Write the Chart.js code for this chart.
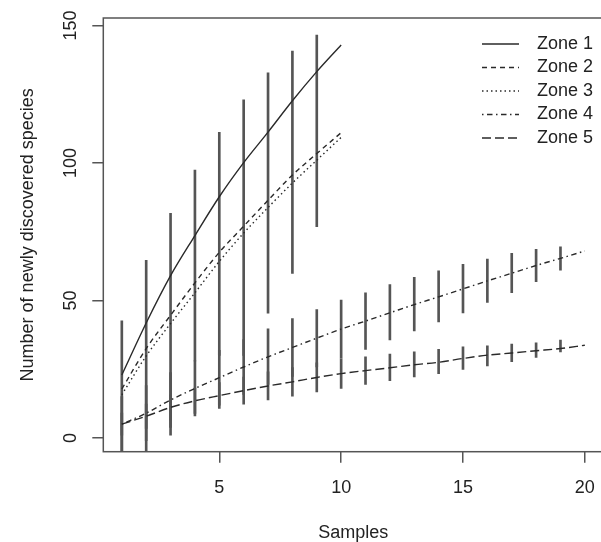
<!DOCTYPE html>
<html>
<head>
<meta charset="utf-8">
<script src="https://cdn.jsdelivr.net/npm/chart.js@4.4.1/dist/chart.umd.min.js"></script>
<style>
html, body { margin: 0; padding: 0; background: #fff; overflow: hidden; }
#wrap { width: 610px; height: 542px; }
</style>
</head>
<body>
<div id="wrap"><canvas id="myChart" width="610" height="542"></canvas></div>
<script>
// samples (x) and curves
const samplesShort = [1, 2, 3, 4, 5, 6, 7, 8, 9, 10]
const samplesLong = [1, 2, 3, 4, 5, 6, 7, 8, 9, 10, 11, 12, 13, 14, 15, 16, 17, 18, 19, 20]

const zone1 = [22.9, 41.8, 59.0, 73.6, 87.7, 100.1, 111.2, 122.6, 133.2, 142.9]
const zone2 = [17.8, 32.5, 44.6, 56.4, 67.5, 77.0, 86.4, 95.6, 103.4, 111.0]
const zone3 = [15.7, 29.8, 41.6, 52.8, 64.2, 74.5, 83.8, 92.7, 101.0, 109.3]
const zone4 = [5.0, 9.0, 13.8, 18.0, 21.9, 25.8, 29.5, 32.9, 36.3, 39.6, 42.5, 45.5, 48.5, 51.3, 54.2, 57.1, 59.9, 62.7, 65.3, 68.0]
const zone5 = [5.0, 7.9, 11.1, 13.5, 15.4, 17.2, 18.9, 20.4, 22.0, 23.4, 24.5, 25.5, 26.6, 27.5, 28.9, 30.1, 30.9, 31.7, 32.5, 33.7]

// vertical bars (low / high), no bar on the last sample
const upperBarX = [1, 2, 3, 4, 5, 6, 7, 8, 9]
const upperLow = [-10, -10, 1.0, 28, 30, 30, 45.4, 59.8, 76.8]
const upperHigh = [42.6, 64.6, 81.7, 97.4, 111.1, 122.9, 132.8, 140.7, 146.5]

const lowerBarX = [1, 2, 3, 4, 5, 6, 7, 8, 9, 10, 11, 12, 13, 14, 15, 16, 17, 18, 19]
const zone4Low = [-5, -1, 3.8, 8, 11.9, 15.8, 19.5, 22.4, 25.8, 29, 32.2, 35.6, 38.9, 42.2, 45.5, 49.3, 52.8, 56.8, 61.0]
const zone4High = [15, 19, 23.8, 28, 31.9, 35.8, 39.7, 43.4, 46.7, 50.1, 52.8, 55.8, 58.4, 60.8, 63.1, 65.0, 67.1, 68.6, 69.5]
const zone5Low = [1, 3.5, 6.5, 8.9, 10.7, 12.3, 13.8, 15.2, 16.7, 18.0, 19.5, 20.8, 22.2, 23.4, 24.9, 26.2, 27.7, 29.3, 31.3]
const zone5High = [9, 12.3, 15.7, 18.1, 20.1, 22.1, 24, 25.6, 27.3, 28.8, 29.5, 30.5, 31.3, 32.2, 33.1, 33.5, 34.1, 34.6, 35.6]

const xTicks = [5, 10, 15, 20]
const yTicks = [0, 50, 100, 150]

const FONT = '"Liberation Sans", Arial, sans-serif'
const LINE = '#2a2a2a'
const BAR = '#555'
const AXIS = '#555'

const pts = (xs, ys) => xs.map((x, i) => ({ x: x, y: ys[i] }))
const bars = (xs, lo, hi) => xs.map((x, i) => ({ x: x, y: [lo[i], hi[i]] }))

const lineSet = (label, xs, ys, dash) => ({
  type: 'line',
  label: label,
  data: pts(xs, ys),
  borderColor: LINE,
  borderWidth: 1.4,
  borderDash: dash,
  pointRadius: 0,
  cubicInterpolationMode: 'monotone',
  fill: false,
  order: 1
})

const barSet = (data) => ({
  type: 'bar',
  data: data,
  backgroundColor: BAR,
  borderWidth: 0,
  barThickness: 2,
  grouped: false,
  order: 2
})

// R style box round the plot region
const boxPlugin = {
  id: 'box',
  afterDraw(chart) {
    const a = chart.chartArea
    const c = chart.ctx
    c.save()
    c.strokeStyle = AXIS
    c.lineWidth = 1.5
    c.strokeRect(a.left, a.top, a.right - a.left, a.bottom - a.top)
    c.restore()
  }
}

// legend in the top right, no frame
const legendPlugin = {
  id: 'rlegend',
  afterDraw(chart) {
    const c = chart.ctx
    c.save()
    chart.data.datasets.forEach((ds, i) => {
      if (!ds.label) return
      const y = 44 + i * 23.5
      c.strokeStyle = ds.borderColor
      c.lineWidth = ds.borderWidth
      c.setLineDash(ds.borderDash || [])
      c.beginPath()
      c.moveTo(482, y)
      c.lineTo(519, y)
      c.stroke()
      c.setLineDash([])
      c.fillStyle = '#222'
      c.font = '18px ' + FONT
      c.textBaseline = 'middle'
      c.textAlign = 'left'
      c.fillText(ds.label, 537, y)
    })
    c.restore()
  }
}

const ctx = document.getElementById('myChart')

new Chart(ctx, {
  type: 'line',
  data: {
    datasets: [
      lineSet('Zone 1', samplesShort, zone1, []),
      lineSet('Zone 2', samplesShort, zone2, [5, 4]),
      lineSet('Zone 3', samplesShort, zone3, [1.5, 3]),
      lineSet('Zone 4', samplesLong, zone4, [1.5, 3.5, 5.5, 3.5]),
      lineSet('Zone 5', samplesLong, zone5, [9, 4]),
      barSet(bars(upperBarX, upperLow, upperHigh)),
      barSet(bars(lowerBarX, zone4Low, zone4High)),
      barSet(bars(lowerBarX, zone5Low, zone5High))
    ]
  },
  options: {
    responsive: false,
    animation: false,
    layout: { padding: { top: 18, right: 4, left: 0, bottom: 0 } },
    plugins: {
      legend: { display: false },
      tooltip: { enabled: false }
    },
    scales: {
      x: {
        type: 'linear',
        min: 0.24,
        max: 20.76,
        offset: false,
        afterBuildTicks: (s) => { s.ticks = xTicks.map(v => ({ value: v })) },
        afterFit: (s) => { s.height = 90.3 },
        grid: { offset: false, drawOnChartArea: false, tickLength: 11, tickColor: AXIS, lineWidth: 1.5 },
        border: { display: false },
        ticks: { color: '#222', font: { family: FONT, size: 18 }, padding: 15, maxRotation: 0, autoSkip: false },
        title: { display: true, text: 'Samples', color: '#222', font: { family: FONT, size: 18 }, padding: { top: 0, bottom: -2 } }
      },
      y: {
        min: -5,
        max: 152.7,
        afterBuildTicks: (s) => { s.ticks = yTicks.map(v => ({ value: v })) },
        afterFit: (s) => { s.width = 103.3 },
        grid: { drawOnChartArea: false, tickLength: 11, tickColor: AXIS, lineWidth: 1.5 },
        border: { display: false },
        ticks: { color: '#222', font: { family: FONT, size: 18 }, padding: 6, minRotation: 90, maxRotation: 90, crossAlign: 'center', autoSkip: false },
        title: { display: true, text: 'Number of newly discovered species', color: '#222', font: { family: FONT, size: 18 }, padding: { top: 17, bottom: 0 } }
      }
    }
  },
  plugins: [boxPlugin, legendPlugin]
})
</script>
</body>
</html>
